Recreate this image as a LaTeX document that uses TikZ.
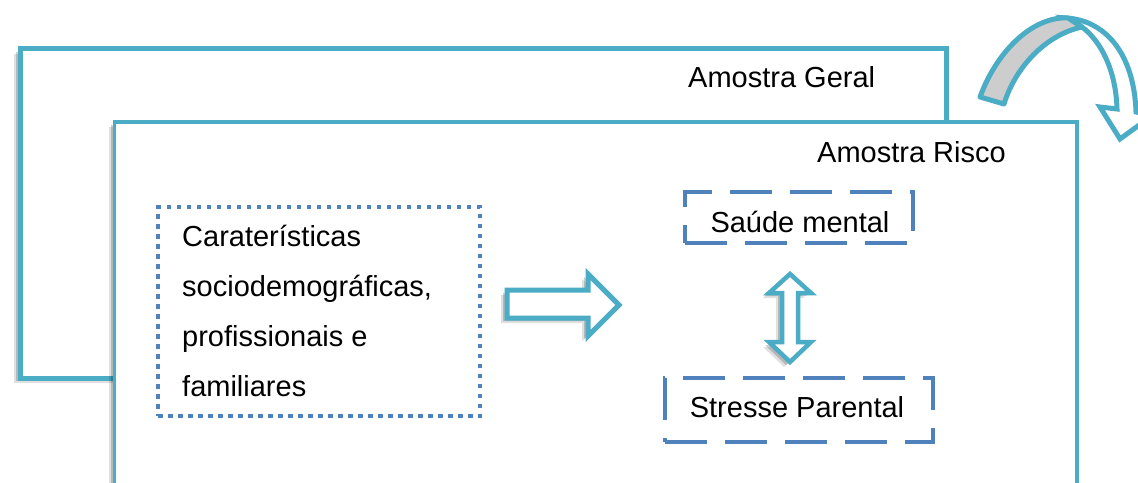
\documentclass[tikz,border=0pt]{standalone}
\usepackage{fontspec}
\setmainfont{Liberation Sans}
\usetikzlibrary{shadows}
\definecolor{teal}{HTML}{4BACC6}
\definecolor{dblue}{HTML}{4F81BD}
\definecolor{lgray}{HTML}{CDCDCD}
\tikzset{
  myshadow/.style={drop shadow={shadow xshift=-6pt,shadow yshift=-5pt,opacity=.12,fill=black},
                   drop shadow={shadow xshift=-4pt,shadow yshift=-3pt,opacity=.18,fill=black}},
  frame/.style={draw=teal,fill=white,myshadow},
  lbl/.style={font=\fontsize{29}{50}\selectfont,inner sep=0pt,text=black},
  dashbox/.style={draw=dblue,line width=4.8pt,dash pattern=on 42pt off 18pt,fill=none,inner sep=0pt},
  dotbox/.style={draw=dblue,line width=4.5pt,dash pattern=on 4.5pt off 5.5pt,inner sep=0pt},
  blockarrow/.style={draw=teal,line width=5pt,fill=white,line join=miter,myshadow},
}
\begin{document}
\begin{tikzpicture}[x=1pt,y=-1pt]
\useasboundingbox (0,0) rectangle (1138,482);
% outer frame
\draw[frame,line width=5pt] (20,48.5) rectangle (946,378);
\node[lbl,anchor=base west] (geral) at (688,87) {Amostra Geral};
% inner frame
\draw[frame,line width=3.5pt] (114.5,122) rectangle (1077,530);
\node[lbl,anchor=base west] (risco) at (817,162) {Amostra Risco};
% dotted box
\node[dotbox,minimum width=322pt,minimum height=209pt] (soc) at (319,311.5) {};
\node[lbl,anchor=base west,align=left] (soctext) at (182,396)
  {Caraterísticas\\sociodemográficas,\\profissionais e\\familiares};
% dashed boxes
\node[dashbox,minimum width=228pt,minimum height=51pt] (saude) at (799,217.5) {};
\node[lbl,anchor=base] (saudetext) at (800,232) {Saúde mental};
\node[dashbox,minimum width=268pt,minimum height=64pt] (stress) at (799,410) {};
\node[lbl,anchor=base] (stresstext) at (797,417) {Stresse Parental};
% right block arrow
\draw[blockarrow] (507,290) -- (588,290) -- (588,274) -- (619,305) -- (588,336) -- (588,318) -- (507,318) -- cycle;
% double arrow
\draw[blockarrow,line width=4.5pt] (790,274) -- (811,293) -- (798,293) -- (798,342) -- (811,342) -- (790,362)
  -- (769,342) -- (782,342) -- (782,293) -- (769,293) -- cycle;
% curved arrow (top right)
\draw[draw=teal,line width=5pt,fill=white,line join=miter]
  (1066,18) .. controls (1104,20) and (1134,52) .. (1136,112)
  -- (1153,115) -- (1120,139) -- (1100,107) -- (1117,109)
  .. controls (1116,72) and (1102,42) .. (1082,27) -- cycle;
\draw[draw=teal,line width=5pt,fill=lgray,line join=round]
  (980,97) .. controls (998,48) and (1035,16) .. (1068,18)
  -- (1082,27)
  .. controls (1045,35) and (1015,68) .. (1004,104) -- cycle;
\end{tikzpicture}
\end{document}
